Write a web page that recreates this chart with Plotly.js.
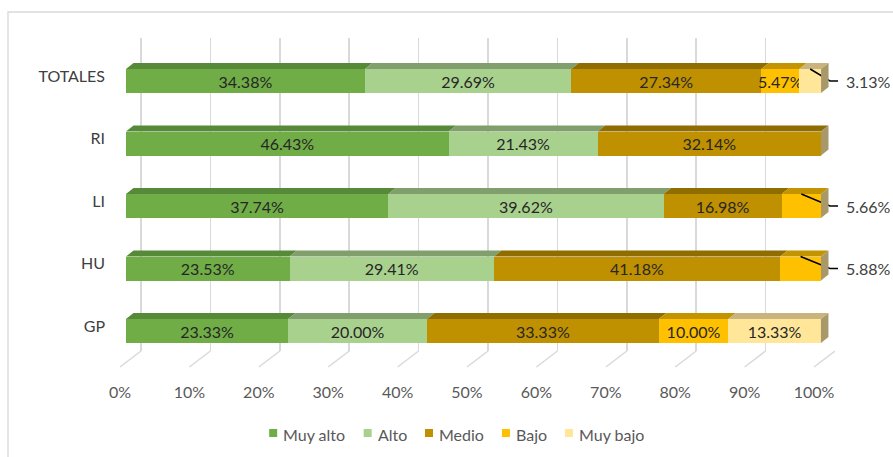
<!DOCTYPE html>
<html>
<head>
<meta charset="utf-8">
<script src="https://cdn.plot.ly/plotly-3.0.1.min.js"></script>
<style>html,body{margin:0;padding:0;background:#fff;}#chart{width:893px;height:457px;}</style>
</head>
<body>
<div id="chart"></div>
<script>
// ---- data ----
const categories = ['GP', 'HU', 'LI', 'RI', 'TOTALES'];
const seriesNames = ['Muy alto', 'Alto', 'Medio', 'Bajo', 'Muy bajo'];
const muyAlto = [23.33, 23.53, 37.74, 46.43, 34.38];
const alto    = [20.00, 29.41, 39.62, 21.43, 29.69];
const medio   = [33.33, 41.18, 16.98, 32.14, 27.34];
const bajo    = [10.00, 5.88, 5.66, 0, 5.47];
const muyBajo = [13.33, 0, 0, 0, 3.13];
const tickValues = [0, 10, 20, 30, 40, 50, 60, 70, 80, 90, 100];

// ---- styles ----
const seriesValues = [muyAlto, alto, medio, bajo, muyBajo];
const frontColors = ['#70AD47', '#A9D18E', '#BF9000', '#FFC000', '#FFE699'];
const topColors   = ['#568A38', '#809F6C', '#906D00', '#C49400', '#C8B47C'];
const sideColor = '#A8986A';
const W = 893, H = 457;
const FONT = 'Lato, "Open Sans", sans-serif';
const FONT_SIZE = 16;

// geometry (pixels of the 893x457 page)
const barLeftPx = 126, pxPerUnit = 6.95;        // front faces of bars
const rowTopPx = 81, rowStepPx = 62.5;          // centre of top row, row spacing
const halfBar = 12 / rowStepPx;                 // half bar thickness, in category units
const depthX = 7.5 / pxPerUnit, depthY = 6 / rowStepPx;
const gridPx0 = 141, gridPx100 = 835;           // back-wall gridlines
const gridUnit = (gridPx100 - gridPx0) / 100;
const floorShift = 21 / gridUnit;               // floor diagonal shift

const yIdx = categories.map((c, i) => i);

const traces = [];
// invisible trace that creates the back-wall subplot (x, y)
traces.push({x: [], y: [], type: 'scatter', mode: 'markers', xaxis: 'x', yaxis: 'y',
             showlegend: false, hoverinfo: 'skip'});

const rowTotals = yIdx.map(i => seriesValues.reduce((s, arr) => s + arr[i], 0));
const lastSeries = yIdx.map(i => {
  let last = -1;
  seriesValues.forEach((arr, s) => { if (arr[i] > 0) last = s; });
  return last;
});
const isOutside = (s, i) => s === lastSeries[i] && seriesValues[s][i] < 8;

seriesValues.forEach((vals, s) => {
  traces.push({
    type: 'bar', orientation: 'h', name: seriesNames[s],
    x: vals, y: yIdx, xaxis: 'x2', yaxis: 'y2', showlegend: false,
    marker: {color: frontColors[s], line: {width: 0}},
    text: vals.map((v, i) => (v > 0 && !isOutside(s, i)) ? v.toFixed(2) + '%' : ''),
    textposition: 'inside', insidetextanchor: 'middle', constraintext: 'none',
    textfont: {family: FONT, size: FONT_SIZE, color: '#262626'},
    hoverinfo: 'skip'
  });
});

const shapes = [];
const annotations = [];
// outer chart border
shapes.push({type: 'rect', xref: 'paper', yref: 'paper', x0: 8 / W, x1: 1.05, y0: 1 - 12 / H, y1: -0.05,
             line: {color: '#D9D9D9', width: 1.3}, fillcolor: 'rgba(0,0,0,0)', layer: 'below'});
// floor diagonals
const floorTop = 1 - 351 / H, floorBottom = 1 - 367 / H;
tickValues.forEach(v => {
  shapes.push({type: 'line', xref: 'x', yref: 'paper', x0: v, y0: floorTop, x1: v - floorShift, y1: floorBottom,
               line: {color: '#D9D9D9', width: 1.5}, layer: 'below'});
});
// 3D top faces and end side faces
yIdx.forEach(i => {
  let a = 0;
  seriesValues.forEach((vals, s) => {
    const v = vals[i];
    if (v > 0) {
      const b = a + v;
      const yt = i + halfBar;
      shapes.push({type: 'path', xref: 'x2', yref: 'y2', layer: 'above',
        path: `M ${a},${yt} L ${a + depthX},${yt + depthY} L ${b + depthX},${yt + depthY} L ${b},${yt} Z`,
        fillcolor: topColors[s], line: {width: 0}});
      if (isOutside(s, i)) {
        const mid = a + v / 2;
        const bendX = 100 + 9 / pxPerUnit, endX = 100 + 17 / pxPerUnit;
        shapes.push({type: 'path', xref: 'x2', yref: 'y2', layer: 'above',
          path: `M ${mid},${yt} L ${bendX},${i} L ${endX},${i}`,
          line: {color: '#000000', width: 1.5}});
        annotations.push({xref: 'x2', yref: 'y2', x: 100 + 23 / pxPerUnit, y: i, xanchor: 'left', yanchor: 'middle',
          text: v.toFixed(2) + '%', showarrow: false, font: {family: FONT, size: FONT_SIZE, color: '#404040'}});
      }
      a = b;
    }
  });
  const e = rowTotals[i];
  shapes.push({type: 'path', xref: 'x2', yref: 'y2', layer: 'above',
    path: `M ${e},${i - halfBar} L ${e},${i + halfBar} L ${e + depthX},${i + halfBar + depthY} L ${e + depthX},${i - halfBar + depthY} Z`,
    fillcolor: sideColor, line: {width: 0}});
});

// legend (compact, Excel-like): square, small gap, text
(function buildLegend() {
  const ctx = document.createElement('canvas').getContext('2d');
  ctx.font = FONT_SIZE + 'px ' + FONT;
  const sq = 8, gapText = 6, gapItem = 18, centerPx = 457, midY = 433;
  const widths = seriesNames.map(n => ctx.measureText(n).width);
  const total = widths.reduce((s, w) => s + sq + gapText + w, 0) + gapItem * (seriesNames.length - 1);
  let x = centerPx - total / 2;
  seriesNames.forEach((n, s) => {
    shapes.push({type: 'rect', xref: 'paper', yref: 'paper', x0: x / W, x1: (x + sq) / W,
                 y0: 1 - (midY - sq / 2) / H, y1: 1 - (midY + sq / 2) / H,
                 fillcolor: frontColors[s], line: {width: 0}, layer: 'above'});
    annotations.push({xref: 'paper', yref: 'paper', x: (x + sq + gapText - 1) / W, y: 1 - (midY + 1.5) / H,
                      xanchor: 'left', yanchor: 'middle', showarrow: false, text: n, borderpad: 0,
                      font: {family: FONT, size: FONT_SIZE, color: '#595959'}});
    x += sq + gapText + widths[s] + gapItem;
  });
})();

const xRangeMax = 110;
const yTopPx = rowTopPx - rowStepPx / 2;
const yBotPx = rowTopPx + rowStepPx * (categories.length - 1) + rowStepPx / 2;

const layout = {
  width: W, height: H,
  margin: {l: 0, r: 0, t: 0, b: 0, autoexpand: false},
  paper_bgcolor: '#FFFFFF', plot_bgcolor: 'rgba(0,0,0,0)',
  font: {family: FONT, size: FONT_SIZE, color: '#595959'},
  barmode: 'stack', bargap: 1 - 2 * halfBar,
  showlegend: false,
  // back wall gridlines + tick labels
  xaxis: {domain: [(gridPx0 - 4 * gridUnit) / W, gridPx100 / W], range: [-4, 100], anchor: 'y',
          tickmode: 'array', tickvals: tickValues, ticktext: tickValues.map(v => v + '%'),
          showgrid: true, gridcolor: '#D9D9D9', gridwidth: 1.5, zeroline: false, showline: false,
          ticks: '', ticklabelshift: -floorShift * gridUnit, ticklabelstandoff: 30,
          tickfont: {family: FONT, size: FONT_SIZE, color: '#595959'}, fixedrange: true},
  yaxis: {domain: [1 - 351 / H, 1 - 38 / H], range: [0, 1], anchor: 'x', visible: false, fixedrange: true},
  // bars
  xaxis2: {domain: [barLeftPx / W, (barLeftPx + pxPerUnit * xRangeMax) / W], range: [0, xRangeMax], anchor: 'y2',
           visible: false, showgrid: false, zeroline: false, fixedrange: true},
  yaxis2: {domain: [1 - yBotPx / H, 1 - yTopPx / H], range: [-0.5, categories.length - 0.5], anchor: 'x2',
           tickmode: 'array', tickvals: yIdx, ticktext: categories, ticks: '',
           showgrid: false, zeroline: false, showline: false,
           ticklabelstandoff: 20, ticklabelshift: -5,
           tickfont: {family: FONT, size: FONT_SIZE, color: '#404040'}, fixedrange: true},
  shapes: shapes,
  annotations: annotations
};

Plotly.newPlot('chart', traces, layout, {displayModeBar: false, staticPlot: true});
</script>
</body>
</html>
